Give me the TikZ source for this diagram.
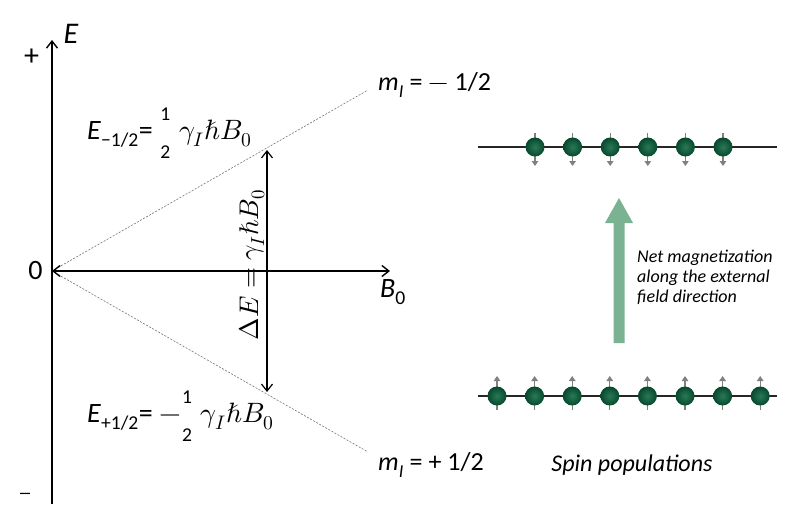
\documentclass[tikz,border=0pt]{standalone}
\usepackage{amsmath}
\usepackage{fontspec}
\setmainfont{Carlito}
\usepackage{unicode-math}
\setmathfont{Latin Modern Math}
\usetikzlibrary{arrows.meta}
\newcommand{\halfcal}{\genfrac{}{}{0pt}{0}{\scriptstyle\text{1}}{\scriptstyle\text{2}}}

\begin{document}
\begin{tikzpicture}[x=1pt,y=-1pt,>={Straight Barb[length=7pt,width=11pt]}]
\definecolor{spingreen}{RGB}{40,122,86}
\definecolor{spindark}{RGB}{8,72,46}
\definecolor{fieldgreen}{RGB}{122,178,146}
\tikzset{
  axis/.style={draw=black, line width=1.4pt},
  gap/.style={draw=black, line width=1.2pt},
  level/.style={draw=black!55, line width=.6pt, dash pattern=on 2pt off 1.5pt},
  spinline/.style={draw=black!85, line width=1.5pt},
  spinarrow/.style={draw=black!50, line width=1.3pt, -{Triangle[length=5pt,width=6.5pt]}},
  spinball/.style={circle, minimum size=19pt, inner sep=0pt, shading=radial,
    inner color=spingreen, outer color=spindark},
  lbl/.style={font=\fontsize{28}{32}\selectfont, inner sep=0pt},
  note/.style={font=\fontsize{18}{20}\selectfont\itshape, align=left, inner sep=0pt}
}
\useasboundingbox (0,0) rectangle (804,504);

% energy diagram
\coordinate (O) at (52,271);
\coordinate (Etop) at (52,40);
\coordinate (Ebot) at (52,504);
\coordinate (Bend) at (390,271);
\coordinate (up) at (368,90);
\coordinate (dn) at (368,452);
\coordinate (gaptop) at (267,150);
\coordinate (gapbot) at (267,392);

\draw[level] (O) -- (up);
\draw[level] (O) -- (dn);
\draw[axis,->] (Ebot) -- (Etop);
\draw[axis,<->] (O) -- (Bend);
\draw[gap,<->] (gaptop) -- (gapbot);

\node[lbl,font=\fontsize{30}{34}\selectfont] (plus) at (31.5,57) {+};
\node[lbl,anchor=base,font=\fontsize{20}{22}\selectfont,text depth=0pt] (minus) at (25,499)
  {\scalebox{1.4}[1]{\textendash}};
\node[lbl] (zero) at (35.5,271) {0};
\node[lbl,font=\fontsize{30}{34}\selectfont\itshape] (Elab) at (71,34) {E};
\node[lbl] (Blab) at (393,292) {\textit{B}\textsubscript{0}};

\node[lbl,anchor=west,font=\fontsize{26}{30}\selectfont] (mup) at (378,85)
  {\textit{m}\textsubscript{\textit{I}} = $-$ 1/2};
\node[lbl,anchor=west,font=\fontsize{26}{30}\selectfont] (mdn) at (378,465)
  {\textit{m}\textsubscript{\textit{I}} = + 1/2};

\node[lbl,anchor=west] (Eup) at (87,133)
  {\textit{E}\textsubscript{\textminus1/2}= $\halfcal\;\gamma_I\hbar B_0$};
\node[lbl,anchor=west] (Edn) at (87,416)
  {\textit{E}\textsubscript{+1/2}= $-\halfcal\;\gamma_I\hbar B_0$};
\node[lbl,font=\fontsize{27}{31}\selectfont,rotate=90] (gaplab) at (252,265) {$\Delta E = \gamma_I\hbar B_0$};

% spin populations
\coordinate (hiL) at (478,147);
\coordinate (hiR) at (777,147);
\coordinate (loL) at (478,396);
\coordinate (loR) at (777,396);
\draw[spinline] (hiL) -- (hiR);
\draw[spinline] (loL) -- (loR);

\foreach \x in {535,572.6,610.2,647.8,685.4,723}{
  \draw[spinarrow] (\x,133) -- (\x,166);
  \node[spinball] at (\x,147) {};
}
\foreach \x in {497,534.6,572.2,609.8,647.4,685,722.6,760.2}{
  \draw[spinarrow] (\x,410) -- (\x,376);
  \node[spinball] at (\x,396) {};
}

\fill[fieldgreen] (613.5,343) -- (613.5,223) -- (605,223) -- (619,198)
  -- (633,223) -- (624.5,223) -- (624.5,343) -- cycle;

\node[note,anchor=west] (netmag) at (637,277)
  {Net magnetization\\along the external\\field direction};
\node[lbl,font=\fontsize{24}{28}\selectfont\itshape] (pops) at (632,465) {Spin populations};
\end{tikzpicture}
\end{document}
